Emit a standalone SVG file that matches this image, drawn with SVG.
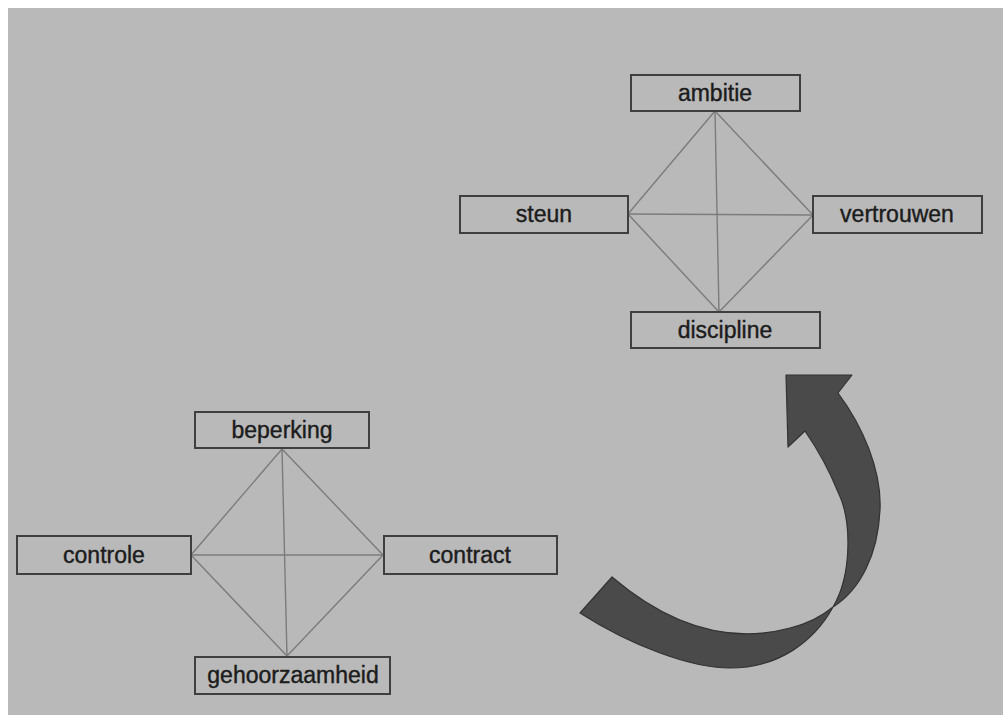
<svg xmlns="http://www.w3.org/2000/svg" width="1003" height="715" viewBox="0 0 1003 715">
<style>
.box{fill:#b9b9b9;stroke:#3f3f3f;stroke-width:2}
.lbl{font-family:"Liberation Sans",Arial,sans-serif;font-size:23px;fill:#1c1c1c;stroke:#1c1c1c;stroke-width:0.4;text-anchor:middle}
.edge{stroke:#7c7c7c;stroke-width:1.4;fill:none}
</style>
<rect x="0" y="0" width="1003" height="715" fill="#ffffff"/>
<rect x="8" y="8" width="995" height="707" fill="#b9b9b9"/>
<g id="connectors">
<line class="edge" x1="715" y1="111" x2="628" y2="214"/>
<line class="edge" x1="715" y1="111" x2="813" y2="215"/>
<line class="edge" x1="715" y1="111" x2="719" y2="312"/>
<line class="edge" x1="628" y1="214" x2="813" y2="215"/>
<line class="edge" x1="628" y1="214" x2="719" y2="312"/>
<line class="edge" x1="813" y1="215" x2="719" y2="312"/>
<line class="edge" x1="282" y1="449" x2="191" y2="555"/>
<line class="edge" x1="282" y1="449" x2="383" y2="555"/>
<line class="edge" x1="282" y1="449" x2="287" y2="656"/>
<line class="edge" x1="191" y1="555" x2="383" y2="555"/>
<line class="edge" x1="191" y1="555" x2="287" y2="656"/>
<line class="edge" x1="383" y1="555" x2="287" y2="656"/>
</g>
<g id="ambitie"><rect class="box" x="631" y="75" width="169" height="36"/><text class="lbl" x="715" y="101">ambitie</text></g>
<g id="steun"><rect class="box" x="460" y="196" width="168" height="37"/><text class="lbl" x="544" y="222">steun</text></g>
<g id="vertrouwen"><rect class="box" x="813" y="196" width="169" height="37"/><text class="lbl" x="897" y="222">vertrouwen</text></g>
<g id="discipline"><rect class="box" x="631" y="312" width="189" height="36"/><text class="lbl" x="725" y="338">discipline</text></g>
<g id="beperking"><rect class="box" x="195" y="412" width="174" height="36"/><text class="lbl" x="282" y="438">beperking</text></g>
<g id="controle"><rect class="box" x="17" y="536" width="174" height="38"/><text class="lbl" x="104" y="563">controle</text></g>
<g id="contract"><rect class="box" x="384" y="536" width="173" height="38"/><text class="lbl" x="470" y="563">contract</text></g>
<g id="gehoorzaamheid"><rect class="box" x="195" y="657" width="195" height="37"/><text class="lbl" x="293" y="683">gehoorzaamheid</text></g>
<g id="arrow">
<path d="M612,577 Q700,652 790,628 Q815,622 833,607 C852,575 852,520 838,492 Q825,460 805,431 L788,447 L786,375 L852,375 L838,393 C862,425 882,470 880,510 C878,555 860,590 833,607 C815,640 780,668 730,668 C690,668 630,645 580,613 Z" fill="#4a4a4a" stroke="#333333" stroke-width="1.2" stroke-linejoin="round"/>
</g>
</svg>
